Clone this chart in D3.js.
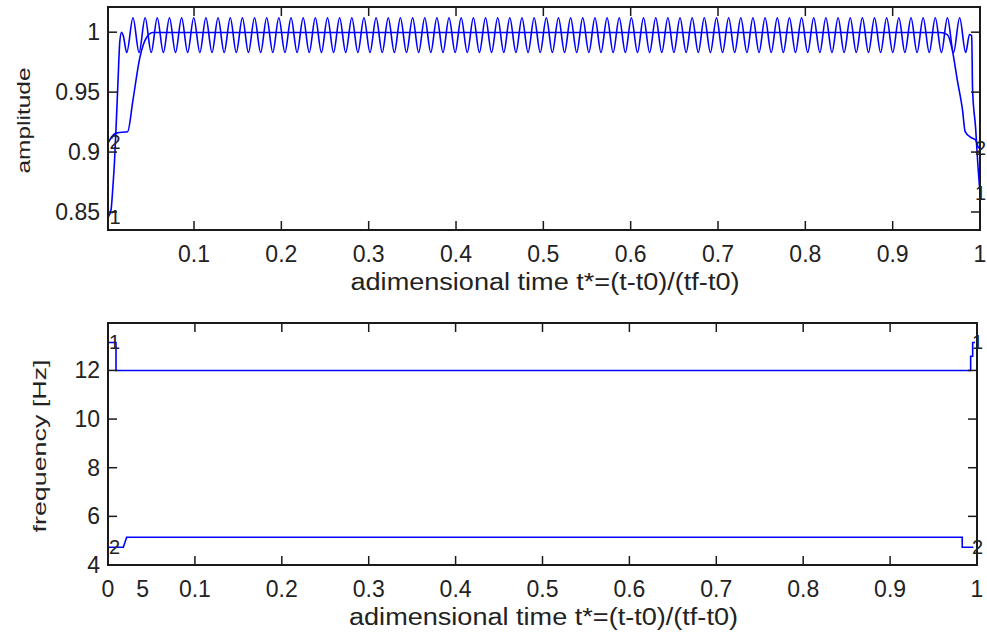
<!DOCTYPE html>
<html>
<head>
<meta charset="utf-8">
<script src="https://cdn.jsdelivr.net/npm/d3@7"></script>
<style>
  body { margin: 0; background: #fff; }
  svg { display: block; }
  text { font-family: "Liberation Sans", Arial, sans-serif; fill: #222; }
</style>
</head>
<body>
<svg width="987" height="641"></svg>
<script>
// ticks
const timeTicks = [0.1, 0.2, 0.3, 0.4, 0.5, 0.6, 0.7, 0.8, 0.9, 1];
const timeTickLabels = ["0.1", "0.2", "0.3", "0.4", "0.5", "0.6", "0.7", "0.8", "0.9", "1"];
const ampTicks = [0.85, 0.9, 0.95, 1];
const ampTickLabels = ["0.85", "0.9", "0.95", "1"];
const freqTicks = [4, 6, 8, 10, 12];
const freqTickLabels = ["4", "6", "8", "10", "12"];
// extra labels under the lower axis: "0" at t=0 and a stray "5"
const freqExtraTicks = [0, 0.04];
const freqExtraLabels = ["0", "5"];

// amplitude, curve 1: run-up, then the ripple (peak / trough), then the drop
const ampStart1 = [[0.002, 0.846], [0.005, 0.852], [0.007, 0.870], [0.009, 0.893], [0.011, 0.925],
  [0.013, 0.960], [0.015, 0.992], [0.017, 1.000], [0.019, 0.997], [0.023, 0.983]];
const ampRipple1 = [
  [0.0301, 1.012], [0.0371, 0.983], [0.0440, 1.012], [0.0510, 0.983], [0.0579, 1.012], [0.0649, 0.983],
  [0.0719, 1.012], [0.0788, 0.983], [0.0858, 1.012], [0.0927, 0.983], [0.0997, 1.012], [0.1067, 0.983],
  [0.1136, 1.012], [0.1206, 0.983], [0.1275, 1.012], [0.1345, 0.983], [0.1415, 1.012], [0.1484, 0.983],
  [0.1554, 1.012], [0.1623, 0.983], [0.1693, 1.012], [0.1763, 0.983], [0.1832, 1.012], [0.1902, 0.983],
  [0.1971, 1.012], [0.2041, 0.983], [0.2111, 1.012], [0.2180, 0.983], [0.2250, 1.012], [0.2319, 0.983],
  [0.2389, 1.012], [0.2459, 0.983], [0.2528, 1.012], [0.2598, 0.983], [0.2667, 1.012], [0.2737, 0.983],
  [0.2807, 1.012], [0.2876, 0.983], [0.2946, 1.012], [0.3015, 0.983], [0.3085, 1.012], [0.3155, 0.983],
  [0.3224, 1.012], [0.3294, 0.983], [0.3363, 1.012], [0.3433, 0.983], [0.3503, 1.012], [0.3572, 0.983],
  [0.3642, 1.012], [0.3711, 0.983], [0.3781, 1.012], [0.3851, 0.983], [0.3920, 1.012], [0.3990, 0.983],
  [0.4059, 1.012], [0.4129, 0.983], [0.4199, 1.012], [0.4268, 0.983], [0.4338, 1.012], [0.4407, 0.983],
  [0.4477, 1.012], [0.4547, 0.983], [0.4616, 1.012], [0.4686, 0.983], [0.4755, 1.012], [0.4825, 0.983],
  [0.4895, 1.012], [0.4964, 0.983], [0.5034, 1.012], [0.5103, 0.983], [0.5173, 1.012], [0.5243, 0.983],
  [0.5312, 1.012], [0.5382, 0.983], [0.5451, 1.012], [0.5521, 0.983], [0.5591, 1.012], [0.5660, 0.983],
  [0.5730, 1.012], [0.5799, 0.983], [0.5869, 1.012], [0.5939, 0.983], [0.6008, 1.012], [0.6078, 0.983],
  [0.6147, 1.012], [0.6217, 0.983], [0.6287, 1.012], [0.6356, 0.983], [0.6426, 1.012], [0.6495, 0.983],
  [0.6565, 1.012], [0.6635, 0.983], [0.6704, 1.012], [0.6774, 0.983], [0.6843, 1.012], [0.6913, 0.983],
  [0.6983, 1.012], [0.7052, 0.983], [0.7122, 1.012], [0.7191, 0.983], [0.7261, 1.012], [0.7331, 0.983],
  [0.7400, 1.012], [0.7470, 0.983], [0.7539, 1.012], [0.7609, 0.983], [0.7679, 1.012], [0.7748, 0.983],
  [0.7818, 1.012], [0.7887, 0.983], [0.7957, 1.012], [0.8027, 0.983], [0.8096, 1.012], [0.8166, 0.983],
  [0.8235, 1.012], [0.8305, 0.983], [0.8375, 1.012], [0.8444, 0.983], [0.8514, 1.012], [0.8583, 0.983],
  [0.8653, 1.012], [0.8723, 0.983], [0.8792, 1.012], [0.8862, 0.983], [0.8931, 1.012], [0.9001, 0.983],
  [0.9071, 1.012], [0.9140, 0.983], [0.9210, 1.012], [0.9279, 0.983], [0.9349, 1.012], [0.9419, 0.983],
  [0.9488, 1.012], [0.9558, 0.983], [0.9627, 1.012], [0.9697, 0.983], [0.9767, 1.012], [0.9836, 0.983]];
const ampEnd1 = [[0.988, 0.998], [0.9905, 0.997], [0.9915, 0.952], [0.995, 0.920], [0.9975, 0.890], [1.0, 0.866]];

// amplitude, curve 2: smooth ramp up, flat, ramp down
const ampLine2 = [[0.002, 0.908], [0.006, 0.913], [0.012, 0.916], [0.024, 0.917], [0.030, 0.943],
  [0.038, 0.979], [0.046, 0.996], [0.053, 0.9997], [0.9545, 0.9997], [0.9626, 0.998], [0.9683, 0.985],
  [0.974, 0.960], [0.980, 0.935], [0.983, 0.917], [0.989, 0.9125], [0.995, 0.910], [0.998, 0.904], [1.0, 0.903]];

// frequency [Hz]
const freqLine1 = [[0, 13.15], [0.0092, 13.15], [0.0092, 12], [0.9927, 12], [0.9927, 12.58],
  [0.995, 12.58], [0.995, 13.15], [0.9977, 13.15]];
const freqLine2 = [[0, 4.73], [0.0176, 4.73], [0.0215, 5.14], [0.983, 5.14], [0.983, 4.73], [0.9958, 4.73]];

const svg = d3.select("svg");
const tickLen = 9;

function drawPanel(opt) {
  const { left, right, top, bottom } = opt.box;
  const x = d3.scaleLinear().domain(opt.xDomain).range([left, right]);
  const y = d3.scaleLinear().domain(opt.yDomain).range([bottom, top]);
  const g = svg.append("g");

  // lines first, frame on top
  const clipId = "clip" + opt.id;
  g.append("clipPath").attr("id", clipId)
    .append("rect").attr("x", left).attr("y", top).attr("width", right - left).attr("height", bottom - top);

  const line = d3.line().x(d => x(d[0])).y(d => y(d[1])).curve(opt.curve);
  opt.series.forEach(s => {
    g.append("path")
      .attr("d", line(s))
      .attr("fill", "none")
      .attr("stroke", "#0000ff")
      .attr("stroke-width", 1.6)
      .attr("clip-path", `url(#${clipId})`);
  });

  // ticks inward, all four sides
  const ticks = g.append("g").attr("stroke", "#1a1a1a").attr("stroke-width", 1.5);
  opt.xTicks.forEach(t => {
    const px = x(t);
    ticks.append("line").attr("x1", px).attr("x2", px).attr("y1", bottom).attr("y2", bottom - tickLen);
    ticks.append("line").attr("x1", px).attr("x2", px).attr("y1", top).attr("y2", top + tickLen);
  });
  opt.yTicks.forEach(t => {
    const py = y(t);
    ticks.append("line").attr("x1", left).attr("x2", left + tickLen).attr("y1", py).attr("y2", py);
    ticks.append("line").attr("x1", right).attr("x2", right - tickLen).attr("y1", py).attr("y2", py);
  });

  g.append("rect")
    .attr("x", left).attr("y", top)
    .attr("width", right - left).attr("height", bottom - top)
    .attr("fill", "none").attr("stroke", "#1a1a1a").attr("stroke-width", 2);

  // tick labels
  opt.xLabelTicks.forEach((t, i) => {
    g.append("text")
      .attr("x", x(t)).attr("y", bottom + 32)
      .attr("text-anchor", "middle")
      .attr("font-size", 23)
      .text(opt.xLabels[i]);
  });
  opt.yTicks.forEach((t, i) => {
    g.append("text")
      .attr("x", left - 8).attr("y", y(t))
      .attr("text-anchor", "end")
      .attr("dominant-baseline", "central")
      .attr("font-size", 23)
      .text(opt.yLabels[i]);
  });

  // "1" / "2" markers at both ends of each curve (the right ones sit on the frame)
  opt.series.forEach((s, i) => {
    const first = s[0], last = s[s.length - 1];
    g.append("text").attr("x", x(first[0]) + 1).attr("y", y(first[1]))
      .attr("dominant-baseline", "central").attr("font-size", 20).text(String(i + 1));
    g.append("text").attr("x", Math.min(x(last[0]) + 2, right - 5)).attr("y", y(last[1]))
      .attr("dominant-baseline", "central").attr("font-size", 20).text(String(i + 1));
  });

  // axis titles
  g.append("text")
    .attr("x", (left + right) / 2 + 1).attr("y", bottom + 60)
    .attr("text-anchor", "middle")
    .attr("font-size", 23)
    .attr("textLength", 389).attr("lengthAdjust", "spacingAndGlyphs")
    .text("adimensional time t*=(t-t0)/(tf-t0)");
  g.append("text")
    .attr("transform", `translate(${opt.yTitleX},${(top + bottom) / 2 + 2}) rotate(-90)`)
    .attr("text-anchor", "middle")
    .attr("font-size", 19)
    .attr("textLength", opt.yTitleLen).attr("lengthAdjust", "spacingAndGlyphs")
    .text(opt.yTitle);
}

drawPanel({
  id: 1,
  box: { left: 108, right: 980, top: 7, bottom: 230 },
  xDomain: [0.0015, 1], yDomain: [0.835, 1.021],
  series: [ampStart1.concat(ampRipple1, ampEnd1), ampLine2],
  curve: d3.curveMonotoneX,
  xTicks: timeTicks, xLabelTicks: timeTicks, xLabels: timeTickLabels,
  yTicks: ampTicks, yLabels: ampTickLabels,
  yTitle: "amplitude", yTitleX: 30, yTitleLen: 106
});

drawPanel({
  id: 2,
  box: { left: 108, right: 977, top: 323, bottom: 565 },
  xDomain: [0, 1], yDomain: [4, 13.95],
  series: [freqLine1, freqLine2],
  curve: d3.curveLinear,
  xTicks: timeTicks, xLabelTicks: freqExtraTicks.concat(timeTicks), xLabels: freqExtraLabels.concat(timeTickLabels),
  yTicks: freqTicks, yLabels: freqTickLabels,
  yTitle: "frequency [Hz]", yTitleX: 46, yTitleLen: 173
});
</script>
</body>
</html>
